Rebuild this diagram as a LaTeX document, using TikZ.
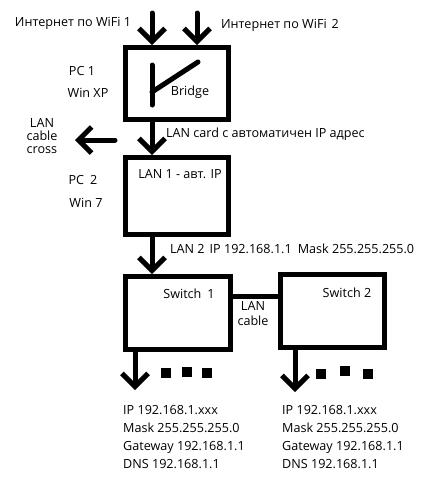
\documentclass[tikz,border=0pt]{standalone}
\usepackage{fontspec}
\setmainfont{Open Sans}
\usetikzlibrary{arrows.meta, positioning}

\begin{document}
\begin{tikzpicture}[
  x=1pt,
  y=-1pt,
  line cap=round,
  line join=round,
  pcbox/.style={draw, line width=5pt, line cap=butt, line join=miter, inner sep=0pt},
  lbl/.style={inner sep=0pt, font=\fontsize{12.6}{15}\selectfont},
  fat/.style={line width=5pt, -{Straight Barb[length=13pt, width=26pt]}},
  thickline/.style={line width=5pt, line cap=butt}
]
  \useasboundingbox (0,0) rectangle (440,480);

  % Boxes
  \node[pcbox, minimum width=103pt, minimum height=72pt] (pcone) at (177,83.5) {};
  \node[pcbox, minimum width=103pt, minimum height=77pt] (pctwo) at (177,196) {};
  \node[pcbox, minimum width=105pt, minimum height=73pt] (swone) at (178,313) {};
  \node[pcbox, minimum width=104pt, minimum height=73pt] (swtwo) at (332.5,311) {};

  % Box texts
  \node[lbl] (bridge) at (190,92) {Bridge};
  \node[lbl] (lanone) at (180,174) {LAN 1 - авт. IP};
  \node[lbl] (swonetxt) at (189,294) {Switch\hspace{6pt}1};
  \node[lbl] (swtwotxt) at (347,293) {Switch 2};

  % Bridge symbol
  \draw[line width=5pt] (152,65) -- (152,105);
  \draw[line width=5pt] (152,92) -- (198,62);

  % WiFi inputs
  \coordinate (wifia) at (152,13);
  \coordinate (wifib) at (197,13);
  \node[lbl] (wifiatxt) at (73,23) {Интернет по WiFi 1};
  \node[lbl] (wifibtxt) at (280,25) {Интернет по WiFi\hspace{5pt}2};
  \draw[fat] (wifia) -- (wifia |- pcone.north);
  \draw[fat] (wifib) -- (wifib |- pcone.north);

  % PC labels
  \node[lbl] (pconetxt) at (82,71) {PC 1};
  \node[lbl] (pconeos) at (88,93) {Win XP};
  \node[lbl] (pctwotxt) at (83,180) {PC\hspace{6pt}2};
  \node[lbl] (pctwoos) at (86,203) {Win 7};

  % Links between boxes
  \draw[fat] ([xshift=-25pt]pcone.south) -- ([xshift=-25pt]pctwo.north);
  \node[lbl, anchor=west] (lancard) at (166,134) {LAN card с автоматичен IP адрес};
  \draw[fat] ([xshift=-25pt]pctwo.south) -- ([xshift=-26pt]swone.north);
  \node[lbl, anchor=west] (lantwo) at (170,249)
    {LAN 2\hspace{5pt}IP 192.168.1.1\hspace{6pt}Mask 255.255.255.0};
  \draw[thickline] ([yshift=17pt]swone.east) -- ([yshift=15pt]swtwo.west);
  \node[lbl, align=center, font=\fontsize{12.6}{15}\selectfont] (lancable) at (253,314) {LAN\\cable};

  % Cross cable
  \coordinate (crossa) at (115,140);
  \coordinate (crossb) at (75,140);
  \draw[fat] (crossa) -- (crossb);
  \node[lbl, align=center, font=\fontsize{12.6}{13}\selectfont] (crosstxt) at (42,136) {LAN\\cable\\cross};

  % Outputs of the switches
  \coordinate (outa) at (135,390);
  \coordinate (outb) at (295,392);
  \draw[fat] (swone.south -| outa) -- (outa);
  \draw[fat] (swtwo.south -| outb) -- (outb);
  \foreach \x/\y in {166/373, 187/372, 207/373, 321/374, 345/371, 368/374} {
    \fill (\x-5,\y-5) rectangle (\x+5,\y+5);
  }

  % Client settings
  \node[lbl, anchor=west, align=left, font=\fontsize{12.6}{18}\selectfont] (cfga) at (123,437)
    {IP 192.168.1.xxx\\Mask 255.255.255.0\\Gateway 192.168.1.1\\DNS 192.168.1.1};
  \node[lbl, anchor=west, align=left, font=\fontsize{12.6}{18}\selectfont] (cfgb) at (282,437)
    {IP 192.168.1.xxx\\Mask 255.255.255.0\\Gateway 192.168.1.1\\DNS 192.168.1.1};
\end{tikzpicture}
\end{document}
